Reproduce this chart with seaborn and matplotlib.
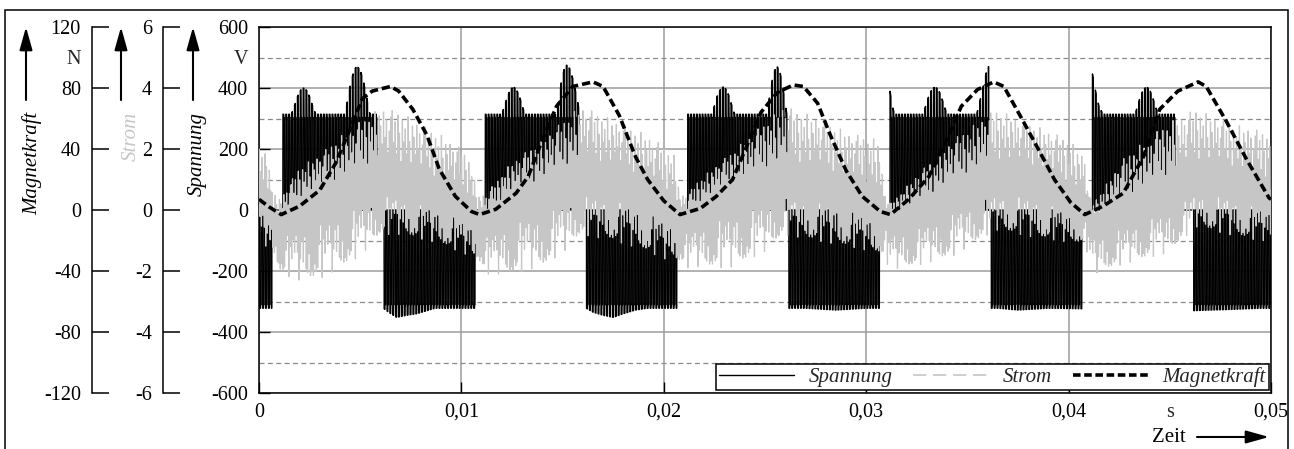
import numpy as np
import matplotlib
matplotlib.use("Agg")
import matplotlib.pyplot as plt
import seaborn as sns
from matplotlib.lines import Line2D
from matplotlib.patches import Rectangle, FancyArrowPatch
from matplotlib.ticker import FixedLocator, FixedFormatter

# ------------------------------------------------------------------ data
# Magnetkraft (N)
kraft_t = [0.0000, 0.0005, 0.0011, 0.0020, 0.0030, 0.0038, 0.0045, 0.0051, 0.0056,
           0.0065, 0.0069, 0.0076, 0.0083, 0.0089, 0.0097, 0.0105, 0.0109,
           0.0117, 0.0127, 0.0133, 0.0140, 0.0147, 0.0155, 0.0165, 0.0170,
           0.0178, 0.0186, 0.0192, 0.0200, 0.0208,
           0.0218, 0.0226, 0.0234, 0.0241, 0.0248, 0.0256, 0.0264, 0.0269,
           0.0276, 0.0282, 0.0290, 0.0298, 0.0307, 0.0312,
           0.0321, 0.0331, 0.0339, 0.0347, 0.0355, 0.0363, 0.0368, 0.0376,
           0.0385, 0.0393, 0.0401, 0.0408,
           0.0417, 0.0427, 0.0437, 0.0445, 0.0454, 0.0464, 0.0468, 0.0478,
           0.0488, 0.0499, 0.0500]
kraft_n = [7, 2, -3, 2.5, 13, 31, 53, 73, 78, 81, 78, 66, 49, 27, 9, -1, -3,
           0.5, 11, 22, 46, 68, 81, 84, 81, 62, 35, 20, 6, -3,
           1, 9, 20, 42, 64, 77, 82, 81, 70, 50, 26, 9, -1, -3,
           7, 22, 44, 68, 79, 84, 81, 62, 40, 20, 5, -3,
           2.5, 11, 35, 66, 78, 84, 81, 58, 33, 8, 7]

# Spannung: switching blocks (s) and levels (V)
pos_start = [0.00112, 0.01117, 0.02113, 0.03117, 0.04114]
pos_end = [0.00582, 0.01586, 0.02608, 0.03605, 0.04530]
neg_start = [0.00000, 0.00614, 0.01616, 0.02615, 0.03612, 0.04613]
neg_end = [0.00063, 0.01067, 0.02064, 0.03065, 0.04065, 0.05001]
plateau_pos = 303
plateau_neg = -310
# overshoot envelope after switch-on, positive blocks
over_pos_t = [0.0016, 0.00175, 0.0019, 0.00205, 0.0022, 0.00235, 0.0025, 0.00265, 0.0028,
              0.00425, 0.0044, 0.00455, 0.0047, 0.00484, 0.0050, 0.00516, 0.00532, 0.00548,
              0.0120, 0.01214, 0.01229, 0.01243, 0.01257, 0.01271, 0.01286, 0.0130, 0.01314,
              0.0147, 0.01483, 0.01495, 0.01508, 0.0152, 0.01537, 0.01553, 0.0157, 0.01586,
              0.02237, 0.02251, 0.02265, 0.0228, 0.02294, 0.02308, 0.02322, 0.02336, 0.0235,
              0.02509, 0.02522, 0.02535, 0.02547, 0.0256, 0.02572, 0.02584, 0.02596, 0.02608,
              0.03117, 0.0313, 0.0314,
              0.0328, 0.03295, 0.0331, 0.03325, 0.0334, 0.03355, 0.0337, 0.03385, 0.0340,
              0.03546, 0.0357, 0.0359, 0.0360,
              0.04114, 0.0413, 0.0415, 0.0417,
              0.04328, 0.04342, 0.04356, 0.04371, 0.04385, 0.04399, 0.04413, 0.04428, 0.04442]
over_pos_v = [314, 341, 372, 393, 400, 393, 372, 341, 314,
              314, 368, 423, 459, 472, 459, 423, 368, 314,
              314, 343, 375, 396, 404, 396, 375, 343, 314,
              314, 370, 425, 462, 475, 462, 425, 370, 314,
              314, 343, 375, 396, 404, 396, 375, 343, 314,
              314, 368, 422, 457, 470, 457, 422, 368, 314,
              393, 340, 314,
              314, 343, 375, 396, 404, 396, 375, 343, 314,
              314, 380, 440, 470,
              461, 400, 340, 314,
              314, 343, 375, 396, 404, 396, 375, 343, 314]
# overshoot envelope after switch-on, negative blocks
over_neg_t = [0.00614, 0.0064, 0.0068, 0.0073, 0.0078, 0.0083, 0.0087,
              0.01616, 0.0165, 0.0170, 0.0175, 0.0180, 0.0186, 0.0192,
              0.0270, 0.0285, 0.0300,
              0.0365, 0.0375, 0.0390,
              0.0462, 0.0470, 0.0480, 0.0495]
over_neg_v = [-322, -335, -352, -345, -340, -330, -322,
              -322, -335, -345, -352, -340, -328, -322,
              -322, -328, -322,
              -322, -328, -322,
              -330, -328, -326, -322]

# Strom (A): upper edge, dense core and lower edge of the ripple band
strom_t = [0.0000, 0.0004, 0.0007, 0.0011, 0.0020, 0.0030, 0.0040, 0.0050, 0.0060,
           0.0070, 0.0080, 0.0090, 0.0100, 0.0104,
           0.0108, 0.0112, 0.0124, 0.0140, 0.0150, 0.0159, 0.0175, 0.0190, 0.0200, 0.0205,
           0.0208, 0.0212, 0.0216, 0.0232, 0.0249, 0.0259, 0.0275, 0.0292, 0.0306,
           0.0309, 0.0312, 0.0326, 0.0343, 0.0364, 0.0384, 0.0400, 0.0408,
           0.0410, 0.0412, 0.0428, 0.0449, 0.0463, 0.0479, 0.0494, 0.0500]
strom_hi = [2.0, 1.9, 0.5, 0.4, 1.4, 1.8, 2.4, 2.9, 3.35, 3.2, 2.8, 2.45, 2.0, 1.7,
            0.5, 0.5, 1.5, 2.3, 2.9, 3.4, 2.95, 2.5, 2.1, 1.8,
            0.5, 0.5, 0.9, 1.8, 2.8, 3.4, 3.05, 2.5, 2.3,
            0.6, 0.2, 1.2, 2.3, 3.3, 2.75, 2.3, 1.75,
            0.5, 0.2, 1.75, 2.85, 3.3, 2.85, 2.6, 2.5]
strom_mid = [0.4, 0.3, -0.3, -0.4, 0.0, 0.25, 0.5, 0.75, 1.0, 0.9, 0.65, 0.4, 0.1, 0.0,
             -0.3, -0.4, 0.2, 0.5, 0.8, 1.0, 0.9, 0.5, 0.15, 0.0,
             -0.3, -0.3, -0.1, 0.45, 0.75, 0.9, 0.8, 0.45, 0.1,
             -0.2, -0.3, -0.1, 0.45, 1.0, 0.9, 0.3, 0.0,
             -0.2, -0.4, -0.1, 0.45, 1.0, 0.9, 0.5, 0.4]
strom_lo = [-1.1, -1.2, -1.4, -2.1, -2.3, -2.25, -1.9, -1.5, -0.8, -0.8, -0.95, -1.1, -1.4, -1.5,
            -1.6, -2.1, -2.1, -1.85, -1.4, -0.8, -1.0, -1.3, -1.6, -1.6,
            -1.7, -1.9, -1.85, -1.9, -1.4, -0.8, -1.0, -1.2, -1.4,
            -1.6, -1.95, -1.8, -1.5, -0.65, -0.9, -1.05, -1.1,
            -1.6, -2.1, -1.75, -1.4, -0.55, -0.8, -1.0, -1.0]
# ripple spike depth of successive ripple periods (fraction of band edge)
ripple_depth = [1.0, 0.55, 0.85, 0.4, 0.95, 0.7, 0.3, 0.9, 0.6, 0.8, 0.45, 1.0,
                0.65, 0.35, 0.9, 0.75, 0.5, 0.95, 0.6, 0.85, 0.4, 0.7, 0.9]
# spread of the dense core (A)
core_spread = [0.2, -0.15, 0.05, -0.25, 0.15, -0.05, 0.25]

# axis ticks and labels
x_ticks = [0.0, 0.01, 0.02, 0.03, 0.04, 0.05]
x_labels = ["0", "0,01", "0,02", "0,03", "0,04", "0,05"]
u_ticks = [-600, -400, -200, 0, 200, 400, 600]
i_ticks = [-6, -4, -2, 0, 2, 4, 6]
f_ticks = [-120, -80, -40, 0, 40, 80, 120]
u_minor = [-500, -300, -100, 100, 300, 500]

# ------------------------------------------------------------ waveforms
f_pwm = 7000.0
f_ripple = 14000.0
duty = 0.5
t_over = 40e-6
dt = 1e-6
t = np.arange(0.0, 0.05 + dt / 2, dt)

# switched voltage
Tc = 1.0 / f_pwm
phase = (t / Tc) % 1.0
sign = np.zeros_like(t)
for s, e in zip(pos_start, pos_end):
    sign[(t >= s) & (t < e)] = 1
for s, e in zip(neg_start, neg_end):
    sign[(t >= s) & (t < e)] = -1
on = np.abs(2 * phase - 1) < duty
since_on = (phase - (1 - duty) / 2) * Tc
first = on & (since_on < t_over)
env_pos = np.interp(t, over_pos_t, over_pos_v, left=314, right=314)
env_neg = np.interp(t, over_neg_t, over_neg_v, left=-322, right=-322)
lvl_pos = np.where(first, env_pos, plateau_pos)
lvl_neg = np.where(first, env_neg, plateau_neg)
spannung = np.where(on, np.where(sign > 0, lvl_pos, np.where(sign < 0, lvl_neg, 0.0)), 0.0)

# current ripple band
Tr = 1.0 / f_ripple
rph = (t / Tr) % 1.0
rcyc = np.floor(t / Tr).astype(int)
hi = np.interp(t, strom_t, strom_hi)
mid = np.interp(t, strom_t, strom_mid)
lo = np.interp(t, strom_t, strom_lo)
depth = np.asarray(ripple_depth)
spread = np.asarray(core_spread)
d_hi = depth[rcyc % len(depth)]
d_lo = depth[(5 * rcyc + 3) % len(depth)]
c_a = spread[rcyc % len(spread)]
c_b = spread[(rcyc + 3) % len(spread)]
strom = np.where(rph < 0.5, mid + c_a, mid + c_b)
strom = np.where(rph < 0.28, mid + d_hi * (hi - mid), strom)
strom = np.where((rph >= 0.5) & (rph < 0.78), mid - d_lo * (mid - lo), strom)

# ---------------------------------------------------------------- style
sns.set_theme(style="white")
plt.rcParams["font.family"] = ["Liberation Serif", "DejaVu Serif"]
plt.rcParams["axes.unicode_minus"] = False

W, H = 1294, 449
fig = plt.figure(figsize=(W / 100, H / 100), dpi=100)
fig.patch.set_facecolor("white")
L, R, T, B = 259, 1271, 27, 393
ax = fig.add_axes([L / W, 1 - B / H, (R - L) / W, (B - T) / H])
ax_i = ax.twinx()
ax_f = ax.twinx()

GRAY = "#c6c6c6"
FS = 14.5

sns.lineplot(x=t, y=spannung, ax=ax, color="black", linewidth=1.0,
             estimator=None, errorbar=None, sort=False, legend=False)
sns.lineplot(x=t, y=strom, ax=ax_i, color=GRAY, linewidth=0.8,
             estimator=None, errorbar=None, sort=False, legend=False)
sns.lineplot(x=kraft_t, y=kraft_n, ax=ax_f, color="black", linewidth=2.6,
             estimator=None, errorbar=None, sort=False, legend=False)
ax_f.lines[-1].set_linestyle((0, (2.3, 1.1)))

ax.set_xlim(0, 0.05)
ax.set_ylim(-600, 600)
ax_i.set_ylim(-6, 6)
ax_f.set_ylim(-120, 120)

# main axes
for s in ax.spines.values():
    s.set_visible(True)
    s.set_color("black")
    s.set_linewidth(1.1)
ax.set_xlabel("")
ax.set_ylabel("")
ax.xaxis.set_major_locator(FixedLocator(x_ticks))
ax.xaxis.set_major_formatter(FixedFormatter(x_labels))
ax.xaxis.set_minor_locator(FixedLocator([0.045]))
ax.xaxis.set_minor_formatter(FixedFormatter(["s"]))
ax.yaxis.set_major_locator(FixedLocator(u_ticks))
ax.yaxis.set_major_formatter(FixedFormatter([str(v) for v in u_ticks]))
ax.yaxis.set_minor_locator(FixedLocator(u_minor))
ax.yaxis.set_minor_formatter(FixedFormatter(["", "", "", "", "", "V"]))
ax.tick_params(axis="both", which="major", direction="in", length=8, width=1.0,
               color="black", labelsize=FS, labelcolor="black",
               top=False, right=False, left=True, bottom=True)
ax.tick_params(axis="y", which="both", pad=8)
ax.tick_params(axis="x", which="both", pad=7)
ax.tick_params(axis="both", which="minor", length=0, labelsize=FS,
               top=False, right=False, left=True, bottom=True)
ax.set_axisbelow(True)
ax.grid(which="major", axis="both", color="#9c9c9c", linewidth=1.1, linestyle="-")
ax.grid(which="minor", axis="y", color="#8a8a8a", linewidth=0.9, linestyle=(0, (4, 2.7)))
ax.grid(which="minor", axis="x", visible=False)

# left-hand scales for Strom and Magnetkraft
for a, xpix, ticks in [(ax_i, 163, i_ticks), (ax_f, 92, f_ticks)]:
    for s in a.spines.values():
        s.set_visible(False)
    a.spines["left"].set_visible(True)
    a.spines["left"].set_position(("axes", (xpix - L) / (R - L)))
    a.spines["left"].set_color("black")
    a.spines["left"].set_linewidth(1.1)
    a.yaxis.set_ticks_position("left")
    a.yaxis.set_label_position("left")
    a.yaxis.set_major_locator(FixedLocator(ticks))
    a.yaxis.set_major_formatter(FixedFormatter([str(v) for v in ticks]))
    a.tick_params(axis="y", which="major", direction="in", length=12, width=1.1,
                  color="black", labelsize=FS, labelcolor="black", pad=8)
    a.set_ylabel("")
    a.set_xlabel("")
ax_f.yaxis.set_minor_locator(FixedLocator([100]))
ax_f.yaxis.set_minor_formatter(FixedFormatter(["N"]))
ax_f.tick_params(axis="y", which="minor", length=0, labelsize=FS, pad=8)
ax_i.yaxis.set_minor_locator(FixedLocator([]))

# legend
handles = [Line2D([], [], color="black", linewidth=1.0),
           Line2D([], [], color=GRAY, linewidth=1.2, linestyle=(0, (8, 4))),
           Line2D([], [], color="black", linewidth=2.6, linestyle=(0, (2.1, 1.0)))]
leg = ax_f.legend(handles, ["Spannung", "Strom", "Magnetkraft"], ncol=3,
                  loc="lower right", bbox_to_anchor=(1 - 2 / (R - L), 3 / (B - T)),
                  borderaxespad=0, frameon=True, fancybox=False, framealpha=1,
                  handlelength=3.6, handletextpad=0.7, columnspacing=1.0,
                  borderpad=0.15, prop={"style": "italic", "size": 15})
leg.get_frame().set_edgecolor("black")
leg.get_frame().set_linewidth(1.1)


def fx(x):
    return x / W


def fy(y):
    return 1 - y / H


# axis titles with upward arrows
for xa in (26, 121, 193):
    fig.add_artist(FancyArrowPatch((fx(xa), fy(100)), (fx(xa), fy(27)),
                                   transform=fig.transFigure,
                                   arrowstyle="-|>,head_length=1.0,head_width=0.28",
                                   mutation_scale=14, linewidth=1.5, color="black",
                                   shrinkA=0, shrinkB=0))
fig.text(fx(32), fy(112), "Magnetkraft", rotation=90, ha="center", va="top",
         style="italic", fontsize=15, color="black")
fig.text(fx(131), fy(112), "Strom", rotation=90, ha="center", va="top",
         style="italic", fontsize=15, color=GRAY)
fig.text(fx(197), fy(112), "Spannung", rotation=90, ha="center", va="top",
         style="italic", fontsize=15, color="black")

fig.text(fx(1186), fy(438), "Zeit", ha="right", va="center", fontsize=15, color="black")
fig.add_artist(FancyArrowPatch((fx(1197), fy(437)), (fx(1269), fy(437)),
                               transform=fig.transFigure,
                               arrowstyle="-|>,head_length=1.0,head_width=0.28",
                               mutation_scale=14, linewidth=1.5, color="black",
                               shrinkA=0, shrinkB=0))

# outer frame
fig.add_artist(Rectangle((fx(5), -0.05), fx(1288) - fx(5), fy(10) + 0.05,
                         transform=fig.transFigure, fill=False,
                         edgecolor="black", linewidth=1.1, clip_on=False))

fig.savefig("out.png", dpi=100, facecolor="white")
